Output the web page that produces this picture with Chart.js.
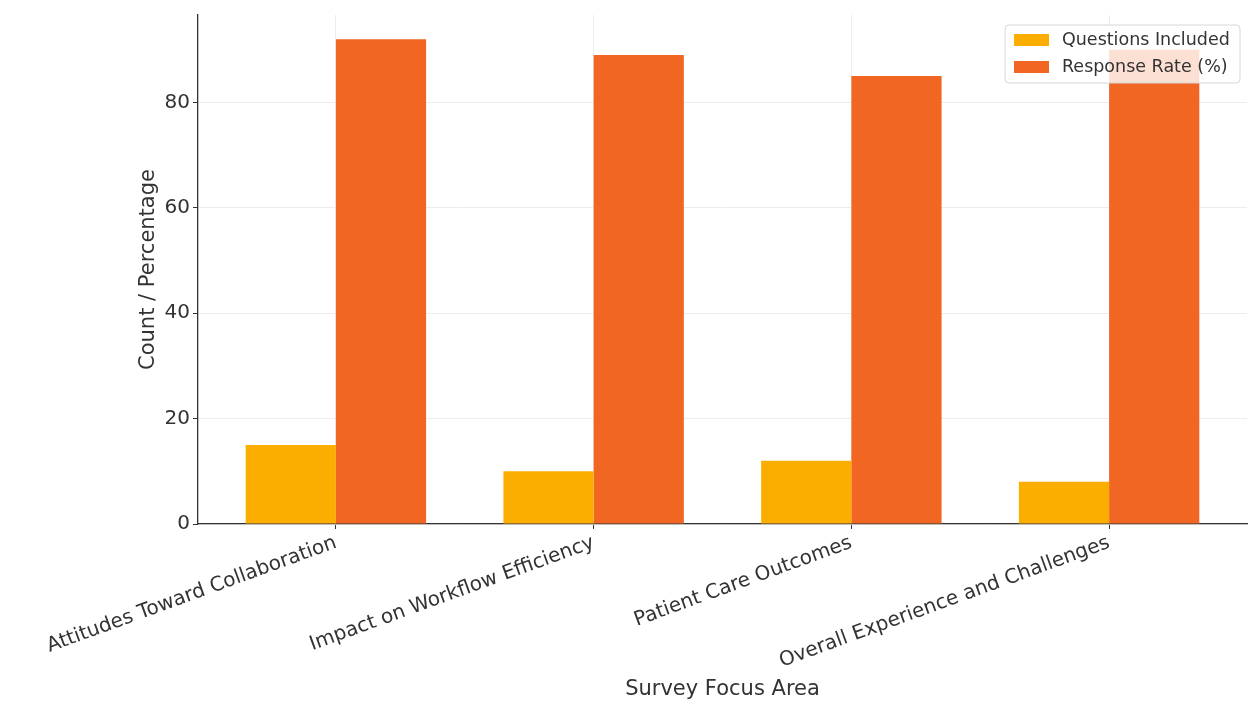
<!DOCTYPE html>
<html>
<head>
<meta charset="utf-8">
<title>Survey Focus Areas</title>
<script src="https://cdn.jsdelivr.net/npm/chart.js@4/dist/chart.umd.min.js"></script>
<style>
  html, body { margin: 0; padding: 0; background: #fff; }
  #chart-wrap { width: 1248px; height: 711px; }
</style>
</head>
<body>
<div id="chart-wrap"><canvas id="survey-chart" width="1248" height="711"></canvas></div>
<script>
// Survey focus areas and their numbers
const focusAreas = [
  'Attitudes Toward Collaboration',
  'Impact on Workflow Efficiency',
  'Patient Care Outcomes',
  'Overall Experience and Challenges'
];
const questionsIncluded = [15, 10, 12, 8];
const responseRate = [92, 89, 85, 90];
const yTicks = [0, 20, 40, 60, 80];

const seriesLabels = ['Questions Included', 'Response Rate (%)'];
const seriesColors = ['#fcae00', '#f16623'];

const FONT = "'DejaVu Sans', sans-serif";
const TEXT = '#333333';

// Legend drawn as a framed box in the top right corner of the plot
const boxLegend = {
  id: 'boxLegend',
  afterDatasetsDraw(chart) {
    const { ctx, chartArea } = chart;
    const w = 235, h = 58;
    const x = chartArea.right - 7 - w;
    const y = chartArea.top + 10;
    ctx.save();
    ctx.beginPath();
    ctx.roundRect(x, y, w, h, 4);
    ctx.fillStyle = 'rgba(255,255,255,0.8)';
    ctx.fill();
    ctx.strokeStyle = '#d6d6d6';
    ctx.lineWidth = 1;
    ctx.stroke();
    ctx.font = '17.5px ' + FONT;
    ctx.textBaseline = 'middle';
    chart.data.datasets.forEach((ds, i) => {
      const rowY = y + 15 + i * 27;
      ctx.fillStyle = ds.backgroundColor;
      ctx.fillRect(x + 9, rowY - 6, 35, 12);
      ctx.fillStyle = TEXT;
      ctx.fillText(ds.label, x + 57, rowY);
    });
    ctx.restore();
  }
};

const ctx = document.getElementById('survey-chart').getContext('2d');

new Chart(ctx, {
  type: 'bar',
  data: {
    datasets: [
      {
        label: seriesLabels[0],
        data: questionsIncluded.map((v, i) => ({ x: i, y: v })),
        backgroundColor: seriesColors[0]
      },
      {
        label: seriesLabels[1],
        data: responseRate.map((v, i) => ({ x: i, y: v })),
        backgroundColor: seriesColors[1]
      }
    ]
  },
  options: {
    responsive: false,
    animation: false,
    layout: { padding: { left: 132, right: 1, top: 12, bottom: 5 } },
    datasets: {
      bar: { categoryPercentage: 0.7, barPercentage: 1.0 }
    },
    plugins: {
      legend: { display: false },
      tooltip: { enabled: false }
    },
    scales: {
      x: {
        type: 'linear',
        offset: false,
        min: -0.535,
        max: 3.535,
        afterFit: (scale) => { scale.height = 182; },
        afterBuildTicks: (scale) => {
          scale.ticks = focusAreas.map((_, i) => ({ value: i }));
        },
        grid: {
          offset: false,
          color: '#ededed',
          lineWidth: 1,
          tickColor: TEXT,
          tickLength: 5
        },
        border: { color: TEXT, width: 1.3 },
        ticks: {
          autoSkip: false,
          minRotation: 20,
          maxRotation: 20,
          padding: 2,
          color: TEXT,
          font: { family: FONT, size: 20 },
          callback: (value) => focusAreas[value]
        },
        title: {
          display: true,
          text: 'Survey Focus Area',
          color: TEXT,
          font: { family: FONT, size: 21 },
          padding: { top: 4, bottom: 4 }
        }
      },
      y: {
        min: 0,
        max: 96.6,
        afterFit: (scale) => { scale.width = 66; },
        afterBuildTicks: (scale) => {
          scale.ticks = yTicks.map(v => ({ value: v }));
        },
        grid: {
          color: '#ededed',
          lineWidth: 1,
          tickColor: TEXT,
          tickLength: 5
        },
        border: { color: TEXT, width: 1.3 },
        ticks: {
          padding: 3,
          color: TEXT,
          font: { family: FONT, size: 20 }
        },
        title: {
          display: true,
          text: 'Count / Percentage',
          color: TEXT,
          font: { family: FONT, size: 21 },
          padding: { top: 4, bottom: 4 }
        }
      }
    }
  },
  plugins: [boxLegend]
});
</script>
</body>
</html>
